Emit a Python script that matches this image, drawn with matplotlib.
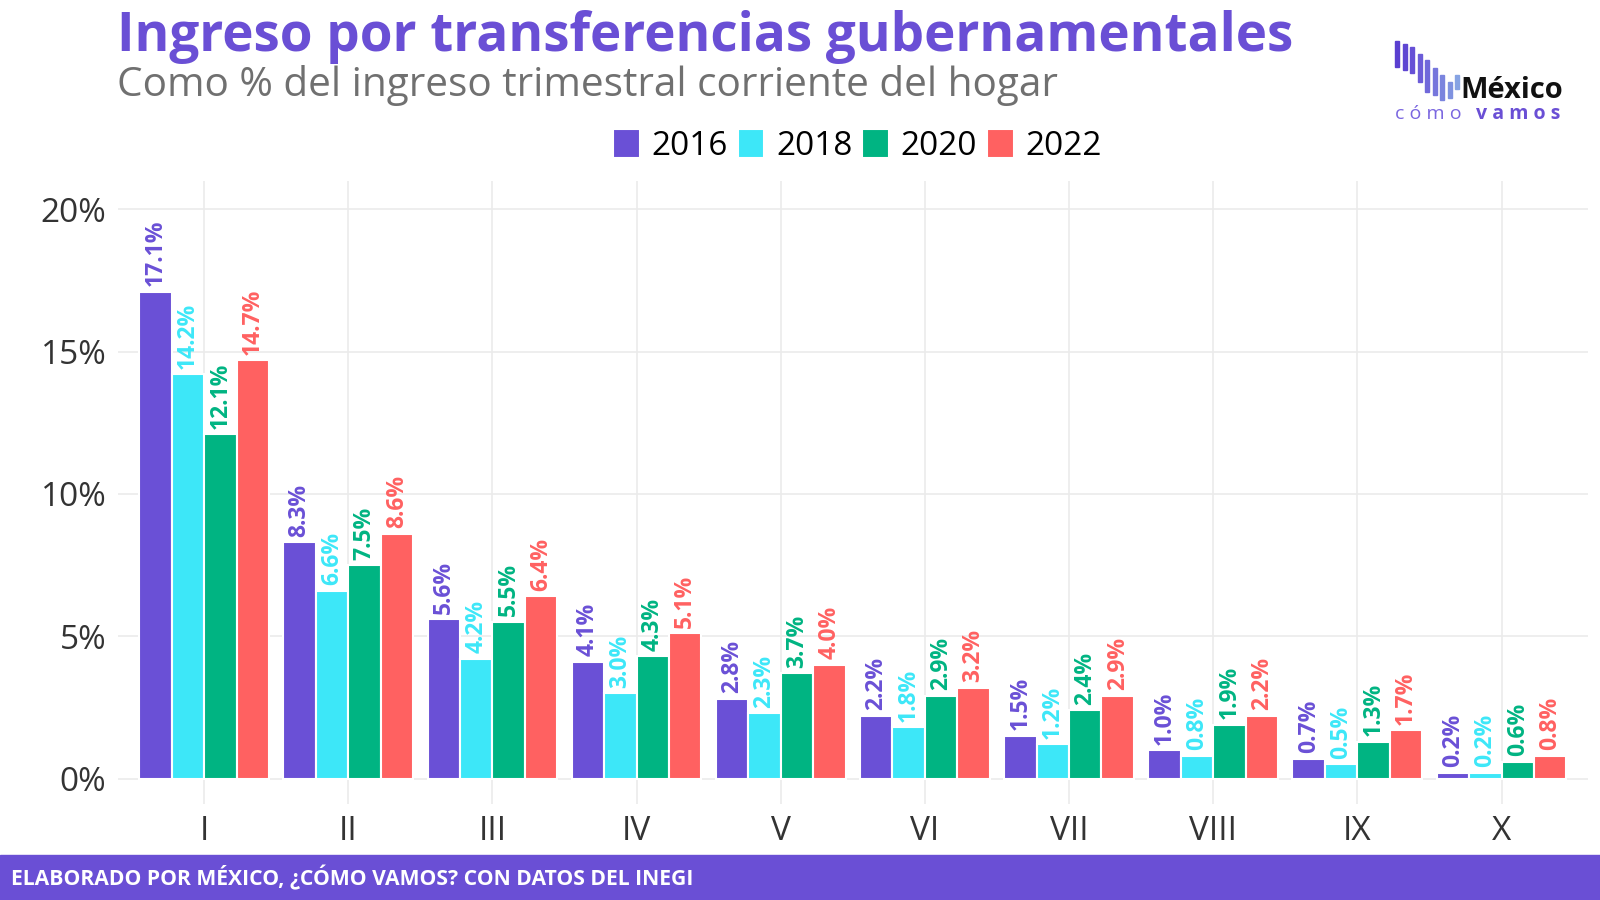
import numpy as np
import matplotlib.pyplot as plt
from matplotlib.patches import Rectangle

# Datos: ingreso por transferencias gubernamentales (% del ingreso corriente), por decil
deciles = ['I', 'II', 'III', 'IV', 'V', 'VI', 'VII', 'VIII', 'IX', 'X']
years = ['2016', '2018', '2020', '2022']
v2016 = [17.1, 8.3, 5.6, 4.1, 2.8, 2.2, 1.5, 1.0, 0.7, 0.2]
v2018 = [14.2, 6.6, 4.2, 3.0, 2.3, 1.8, 1.2, 0.8, 0.5, 0.2]
v2020 = [12.1, 7.5, 5.5, 4.3, 3.7, 2.9, 2.4, 1.9, 1.3, 0.6]
v2022 = [14.7, 8.6, 6.4, 5.1, 4.0, 3.2, 2.9, 2.2, 1.7, 0.8]
y_ticks = [0, 5, 10, 15, 20]

colors = ['#6a50d6', '#3de7f8', '#00b482', '#ff6161']
purple = '#6a4fd5'

plt.rcParams['font.family'] = ['Open Sans', 'DejaVu Sans']

fig = plt.figure(figsize=(16, 9), dpi=100)
ax = fig.add_axes([0.0735, 0.1064, 0.919, 0.6928])

x = np.arange(1, len(deciles) + 1)
w = 0.225
series = [v2016, v2018, v2020, v2022]
handles = []
for i, (vals, c, yr) in enumerate(zip(series, colors, years)):
    pos = x + (i - 1.5) * w
    b = ax.bar(pos, vals, width=w, color=c, edgecolor='white', linewidth=1.5,
               label=yr, zorder=3)
    handles.append(b)
    for p, v in zip(pos, vals):
        ax.annotate(f'{v:.1f}%', (p, v), xytext=(0, 4), textcoords='offset points',
                    rotation=90, ha='center', va='bottom', color=c,
                    fontsize=16.5, fontweight='bold', zorder=4)

ax.set_xlim(0.4, 10.6)
ax.set_ylim(-0.9, 21.0)
ax.set_xticks(x)
ax.set_xticklabels(deciles, fontsize=24, color='#333333')
ax.set_yticks(y_ticks)
ax.set_yticklabels([f'{t}%' for t in y_ticks], fontsize=24, color='#333333')
ax.tick_params(length=0, pad=8)
ax.grid(True, color='#ebebeb', linewidth=1.2, zorder=0)
for s in ax.spines.values():
    s.set_visible(False)

# Títulos
fig.text(0.073, 0.959, 'Ingreso por transferencias gubernamentales', fontsize=38.2,
         fontweight='bold', color=purple, va='center', ha='left')
fig.text(0.073, 0.905, 'Como % del ingreso trimestral corriente del hogar', fontsize=29.2,
         color='#707070', va='center', ha='left')

fig.legend(handles=handles, labels=years, loc='center', bbox_to_anchor=(0.536, 0.838),
           ncol=4, frameon=False, fontsize=24, handlelength=0.8, handleheight=1.0,
           handletextpad=0.35, columnspacing=0.3)

# Pie
fig.patches.append(Rectangle((0, 0), 1, 0.05, transform=fig.transFigure,
                             color=purple, zorder=0))
fig.text(0.007, 0.025, 'ELABORADO POR MÉXICO, ¿CÓMO VAMOS? CON DATOS DEL INEGI',
         color='white', fontsize=15.2, fontweight='bold', va='center', ha='left')

# Logo
logo_cols = ['#5a3fd0', '#5e46d2', '#6650d6', '#6c5cd8', '#7068da', '#7676dc',
             '#7a84de', '#7f92e0', '#86a3e3']
tops = [41, 44, 47, 54, 60, 68, 75, 82, 75]
bots = [67, 70, 73, 82, 92, 95, 100, 98, 89]
for k, (c, t, bt) in enumerate(zip(logo_cols, tops, bots)):
    x0 = 1395 + k * 7.5
    fig.patches.append(Rectangle((x0 / 1600, 1 - bt / 900), 4 / 1600, (bt - t) / 900,
                                 transform=fig.transFigure, color=c))
fig.text(1460 / 1600, 1 - 90 / 900, 'México', fontsize=21, fontweight='bold',
         color='#111111', ha='left', va='center')
fig.text(1395 / 1600, 1 - 114 / 900, 'c ó m o', fontsize=14, color='#7a66e0',
         ha='left', va='center')
fig.text(1476 / 1600, 1 - 114 / 900, 'v a m o s', fontsize=14, fontweight='bold',
         color=purple, ha='left', va='center')

fig.savefig('out.png', dpi=100, facecolor='white')
